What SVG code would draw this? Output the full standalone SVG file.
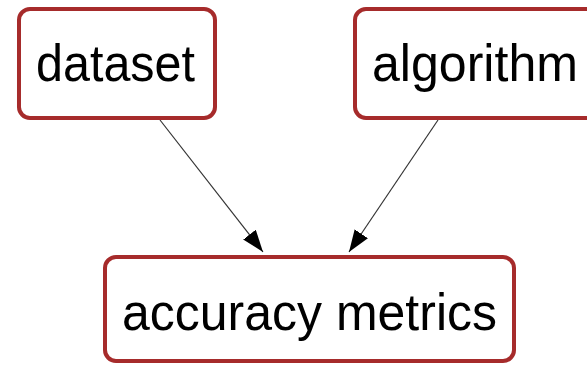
<svg xmlns="http://www.w3.org/2000/svg" width="587" height="366" viewBox="0 0 587 366">
<style>
.box{fill:#fff;stroke:#a62b2b;stroke-width:4}
.lbl{font-family:"Liberation Sans",Arial,sans-serif;font-size:52px;fill:#000}
.edge{stroke:#333;stroke-width:1.2;fill:none}
</style>
<defs>
<marker id="ah" markerUnits="userSpaceOnUse" markerWidth="24" markerHeight="18" refX="22" refY="8" orient="auto">
<path d="M0,0 L22,8 L0,16 Z" fill="#000"/>
</marker>
</defs>
<rect width="587" height="366" fill="#fff"/>
<g id="connectors">
<line class="edge" x1="160" y1="120" x2="263" y2="252" marker-end="url(#ah)"/>
<line class="edge" x1="438" y1="120" x2="349" y2="252" marker-end="url(#ah)"/>
</g>
<g id="dataset">
<rect class="box" x="19" y="9" width="196" height="109" rx="11"/>
<text class="lbl" x="36" y="81" textLength="159" lengthAdjust="spacingAndGlyphs">dataset</text>
</g>
<g id="algorithm">
<rect class="box" x="355" y="9" width="250" height="109" rx="11"/>
<text class="lbl" x="372" y="81" textLength="206" lengthAdjust="spacingAndGlyphs">algorithm</text>
</g>
<g id="accuracy_metrics">
<rect class="box" x="105" y="257" width="409" height="104" rx="11"/>
<text class="lbl" x="122" y="330" textLength="375" lengthAdjust="spacingAndGlyphs">accuracy metrics</text>
</g>
</svg>
